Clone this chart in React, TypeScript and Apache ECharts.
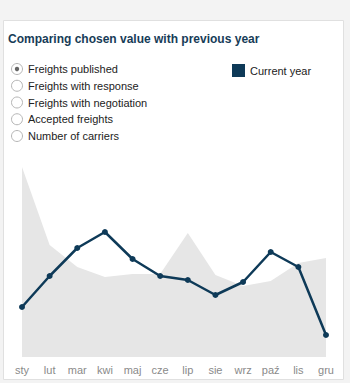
import React, { useEffect, useRef } from "react";
import * as echarts from "echarts";

const months = ["sty", "lut", "mar", "kwi", "maj", "cze", "lip", "sie", "wrz", "paź", "lis", "gru"];
const previousYear = [190, 112, 90, 80, 83, 83, 124, 82, 71, 76, 94, 99];
const currentYear = [50, 81, 109, 125, 98, 81, 77, 62, 75, 105, 90, 22];
const options = [
  "Freights published",
  "Freights with response",
  "Freights with negotiation",
  "Accepted freights",
  "Number of carriers",
];
const selectedIndex = 0;

export default function App() {
  const ref = useRef<HTMLDivElement>(null);
  useEffect(() => {
    const chart = echarts.init(ref.current!, null, { renderer: "svg" });
    const radios: any[] = [];
    options.forEach((label, i) => {
      const cy = 69 + i * 16.75;
      radios.push({
        type: "circle",
        shape: { cx: 17, cy, r: 5.5 },
        style: { fill: "#fff", stroke: "#b5b5b5", lineWidth: 1 },
        z: 10,
      });
      if (i === selectedIndex) {
        radios.push({
          type: "circle",
          shape: { cx: 17, cy, r: 2.2 },
          style: { fill: "#666" },
          z: 11,
        });
      }
      radios.push({
        type: "text",
        x: 28,
        y: cy,
        style: {
          text: label,
          fill: "#222",
          font: "11px 'Liberation Sans', Arial, sans-serif",
          verticalAlign: "middle",
        },
        z: 10,
      });
    });
    chart.setOption({
      animation: false,
      backgroundColor: "#f3f3f3",
      title: {
        text: "Comparing chosen value with previous year",
        left: 3,
        top: 28,
        textStyle: {
          fontFamily: "'Liberation Sans', Arial, sans-serif",
          fontSize: 12,
          fontWeight: "bold",
          color: "#173c57",
        },
      },
      graphic: [
        {
          type: "rect",
          shape: { x: 3.5, y: 20.5, width: 340, height: 359 },
          style: { fill: "#fff", stroke: "#e0e0e0", lineWidth: 1 },
          z: 0,
          silent: true,
        },
        ...radios,
        {
          type: "rect",
          shape: { x: 232, y: 64, width: 13, height: 13 },
          style: { fill: "#0e3a58" },
          z: 10,
        },
        {
          type: "text",
          x: 250,
          y: 71,
          style: {
            text: "Current year",
            fill: "#222",
            font: "11px 'Liberation Sans', Arial, sans-serif",
            verticalAlign: "middle",
          },
          z: 10,
        },
      ],
      grid: { left: 22, right: 24, top: 167, bottom: 26 },
      xAxis: {
        type: "category",
        data: months,
        boundaryGap: false,
        axisLine: { show: false },
        axisTick: { show: false },
        axisLabel: {
          color: "#8a8a8a",
          fontSize: 11,
          fontFamily: "'Liberation Sans', Arial, sans-serif",
          margin: 7,
          interval: 0,
        },
      },
      yAxis: {
        type: "value",
        min: 0,
        max: 190,
        show: false,
        splitLine: { show: false },
      },
      series: [
        {
          name: "Previous year",
          type: "line",
          data: previousYear,
          symbol: "none",
          lineStyle: { width: 0 },
          areaStyle: { color: "#e6e6e6", opacity: 1 },
          z: 1,
        },
        {
          name: "Current year",
          type: "line",
          data: currentYear,
          symbol: "circle",
          symbolSize: 6,
          lineStyle: { color: "#0e3a58", width: 2.5 },
          itemStyle: { color: "#0e3a58" },
          z: 2,
        },
      ],
    });
    return () => chart.dispose();
  }, []);
  return (
    <div
      ref={ref}
      style={{ position: "fixed", left: 0, top: 0, width: 350, height: 383 }}
    />
  );
}
